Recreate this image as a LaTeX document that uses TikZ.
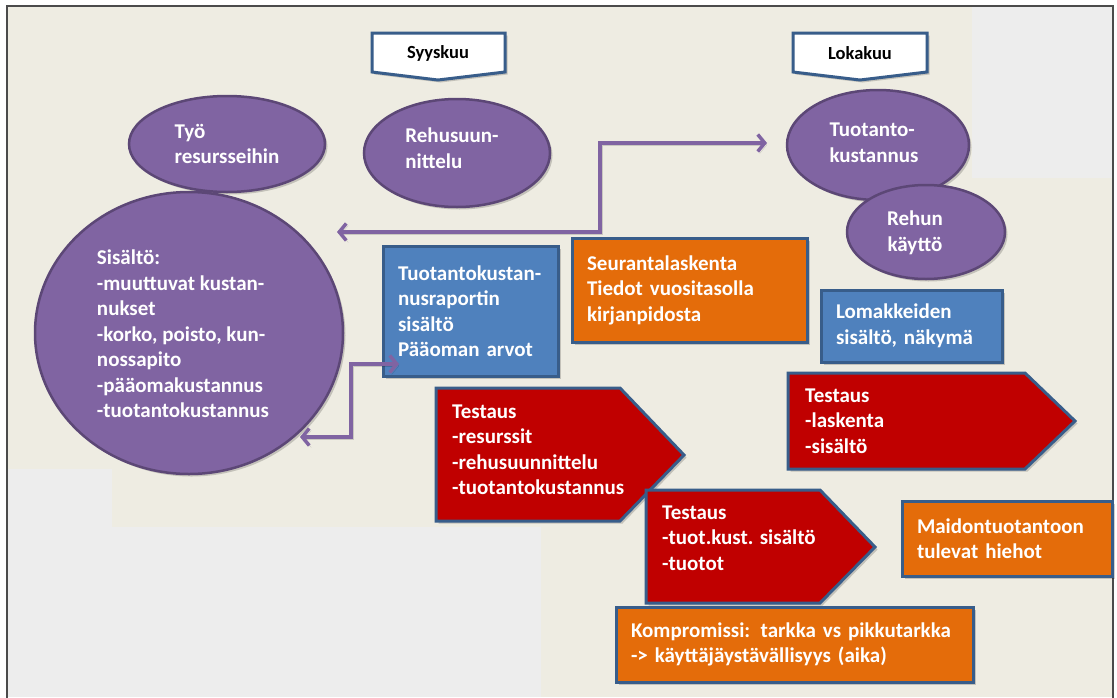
\documentclass[tikz,border=0pt]{standalone}
\usepackage{fontspec}
\setmainfont{Carlito}
\usetikzlibrary{arrows.meta,shapes.geometric}
\definecolor{beige}{RGB}{238,236,226}
\definecolor{lgray}{RGB}{237,237,237}
\definecolor{framec}{RGB}{75,75,75}
\definecolor{purp}{RGB}{128,100,162}
\definecolor{purpd}{RGB}{92,71,118}
\definecolor{bluef}{RGB}{79,129,189}
\definecolor{blued}{RGB}{56,93,138}
\definecolor{orangef}{RGB}{228,108,10}
\definecolor{redf}{RGB}{192,0,0}
\tikzset{
  shade/.style={preaction={fill=black, opacity=0.18, transform canvas={shift={(2.5,2.5)}}}},
  txt/.style={text=white, font=\fontsize{21}{25.5}\selectfont\bfseries, align=left, inner sep=0pt},
  oval/.style={ellipse, draw=purpd, fill=purp, line width=2.5pt, inner sep=0pt, text=white,
    font=\fontsize{21}{25.5}\selectfont\bfseries, align=left, shade},
  monthbox/.style={draw=blued, fill=white, line width=3pt, line join=miter, shade},
  monthtxt/.style={text=black, font=\fontsize{18.5}{22}\selectfont\bfseries, inner sep=0pt},
  box/.style={rectangle, draw=blued, line width=3pt, inner xsep=15pt, inner ysep=0pt, text=white,
    font=\fontsize{21}{25.5}\selectfont\bfseries, align=left, shade},
  redarr/.style={draw=blued, fill=redf, line width=3pt, line join=miter, shade},
  conn/.style={draw=purp, line width=3.5pt,
    preaction={draw=black, opacity=0.15, transform canvas={shift={(2,2)}}},
    {Straight Barb[length=7pt,width=17pt]}-{Straight Barb[length=7pt,width=17pt]}}
}
\begin{document}
\begin{tikzpicture}[x=1pt,y=-1pt]
\useasboundingbox (0,0) rectangle (1117,697);
% background
\fill[white] (0,0) rectangle (1117,697);
\fill[beige] (8,7) rectangle (1112,697);
\fill[lgray] (972,7) rectangle (1112,178);
\fill[lgray] (8,469) rectangle (112,697);
\fill[lgray] (8,527) rectangle (541,697);
\draw[framec, line width=2pt] (7,700) -- (7,6) -- (1113,6) -- (1113,700);

% month markers
\path[monthbox] (372,33) -- (505,33) -- (505,72) -- (438,80) -- (372,72) -- cycle;
\node[monthtxt] (syys) at (438,53) {Syyskuu};
\path[monthbox] (793,33) -- (927,33) -- (927,72) -- (860,80) -- (793,72) -- cycle;
\node[monthtxt] (loka) at (860,53) {Lokakuu};

% ovals
\node[oval, minimum width=196pt, minimum height=96pt] (tyo) at (227,144) {Työ\\resursseihin};
\node[oval, minimum width=186pt, minimum height=108pt] (rehu) at (457,153) {};
\node[txt] (rehut) at (452,148) {Rehusuun-\\nittelu};
\node[oval, minimum width=308pt, minimum height=282pt] (sis) at (189,333) {};
\node[txt] (sist) at (183,334) {Sisältö:\\-muuttuvat kustan-\\nukset\\-korko, poisto, kun-\\nossapito\\-pääomakustannus\\-tuotantokustannus};
\node[oval, minimum width=182pt, minimum height=110pt] (tk) at (878,145) {};
\node[txt] (tkt) at (874,143) {Tuotanto-\\kustannus};
\node[oval, minimum width=158pt, minimum height=94pt] (rk) at (926,232) {};
\node[txt, align=center] (rkt) at (915,233) {Rehun\\käyttö};

% boxes
\node[box, fill=bluef, text width=145pt, minimum height=130pt] (tkr) at (470.5,311)
  {Tuotantokustan-\\nusraportin\\sisältö\\Pääoman arvot};
\node[box, fill=orangef, text width=205pt, minimum height=104pt] (seur) at (689.5,290)
  {Seurantalaskenta\\Tiedot vuositasolla\\kirjanpidosta};
\node[box, fill=bluef, text width=151pt, minimum height=72pt] (loma) at (911.5,326)
  {Lomakkeiden\\sisältö, näkymä};

% red arrows
\path[redarr] (436,388) -- (620,388) -- (684,455) -- (620,521) -- (436,521) -- cycle;
\node[txt, anchor=west] (test1) at (452,450) {Testaus\\-resurssit\\-rehusuunnittelu\\-tuotantokustannus};
\path[redarr] (646,490) -- (820,490) -- (875,547) -- (820,603) -- (646,603) -- cycle;
\node[txt, anchor=west] (test2) at (662,538) {Testaus\\-tuot.kust. sisältö\\-tuotot};
\path[redarr] (788,373) -- (1025,373) -- (1075,421) -- (1025,469) -- (788,469) -- cycle;
\node[txt, anchor=west] (test3) at (805,421) {Testaus\\-laskenta\\-sisältö};

\node[box, fill=orangef, text width=180pt, minimum height=75pt] (maid) at (1007,538.5)
  {Maidontuotantoon\\tulevat hiehot};
\node[box, fill=orangef, text width=327pt, minimum height=75pt] (komp) at (794.5,644.5)
  {Kompromissi: tarkka vs pikkutarkka\\-> käyttäjäystävällisyys (aika)};

% connectors
\coordinate (c1s) at (337,232);
\coordinate (c1t) at (767,143);
\coordinate (c1m) at (600,0);
\draw[conn] (c1s) -- (c1s -| c1m) -- (c1m |- c1t) -- (c1t);
\coordinate (c2s) at (300,437);
\coordinate (c2t) at (399,364);
\coordinate (c2m) at (351,0);
\draw[conn] (c2s) -- (c2s -| c2m) -- (c2m |- c2t) -- (c2t);
\end{tikzpicture}
\end{document}
